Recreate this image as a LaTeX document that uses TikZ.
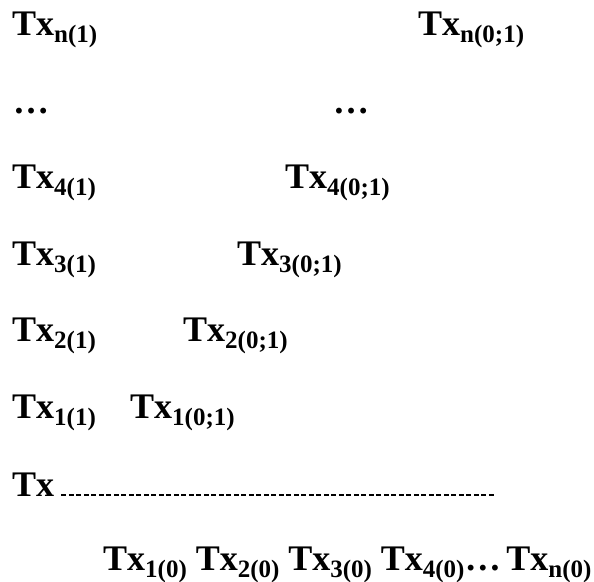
\documentclass[tikz,border=0pt]{standalone}
\usepackage{fontspec}
\setmainfont{Liberation Serif}
\usetikzlibrary{positioning}
\newcommand{\txsub}[1]{Tx\raisebox{-7pt}{\fontsize{25}{25}\selectfont #1}}
\tikzset{
  lbl/.style={inner sep=0pt, anchor=base west, font=\fontsize{36}{40}\selectfont\bfseries},
  dashline/.style={draw=black, line width=1.3pt, dash pattern=on 5pt off 2.5pt},
}

\begin{document}
\begin{tikzpicture}[x=1pt, y=-1pt]
  \useasboundingbox (0,0) rectangle (594,581);

  % upper rows
  \node[lbl] (txn1) at (12,35) {\txsub{n(1)}};
  \node[lbl] (txn01) at (418,35) {\txsub{n(0;1)}};
  \node[lbl] (dotsl) at (13,113) {…};
  \node[lbl] (dotsr) at (333,113) {…};
  \node[lbl] (tx41) at (12,188) {\txsub{4(1)}};
  \node[lbl] (tx401) at (285,188) {\txsub{4(0;1)}};
  \node[lbl] (tx31) at (12,265) {\txsub{3(1)}};
  \node[lbl] (tx301) at (237,265) {\txsub{3(0;1)}};
  \node[lbl] (tx21) at (12,341) {\txsub{2(1)}};
  \node[lbl] (tx201) at (183,341) {\txsub{2(0;1)}};
  \node[lbl] (tx11) at (12,418) {\txsub{1(1)}};
  \node[lbl] (tx101) at (130,418) {\txsub{1(0;1)}};

  % base line
  \node[lbl] (tx) at (12,496) {Tx};
  \coordinate (dashend) at (496,495);
  \draw[dashline] ([shift={(7pt,1pt)}]tx.base east) -- (dashend);

  % bottom row
  \node[lbl] (tx10) at (103,570) {\txsub{1(0)}};
  \node[lbl, base right=8.5pt of tx10] (tx20) {\txsub{2(0)}};
  \node[lbl, base right=8.5pt of tx20] (tx30) {\txsub{3(0)}};
  \node[lbl, base right=8.5pt of tx30] (tx40) {\txsub{4(0)}};
  \node[lbl, base right=0pt of tx40] (dotsb) {…};
  \node[lbl, base right=5pt of dotsb] (txn0) {\txsub{n(0)}};
\end{tikzpicture}
\end{document}
